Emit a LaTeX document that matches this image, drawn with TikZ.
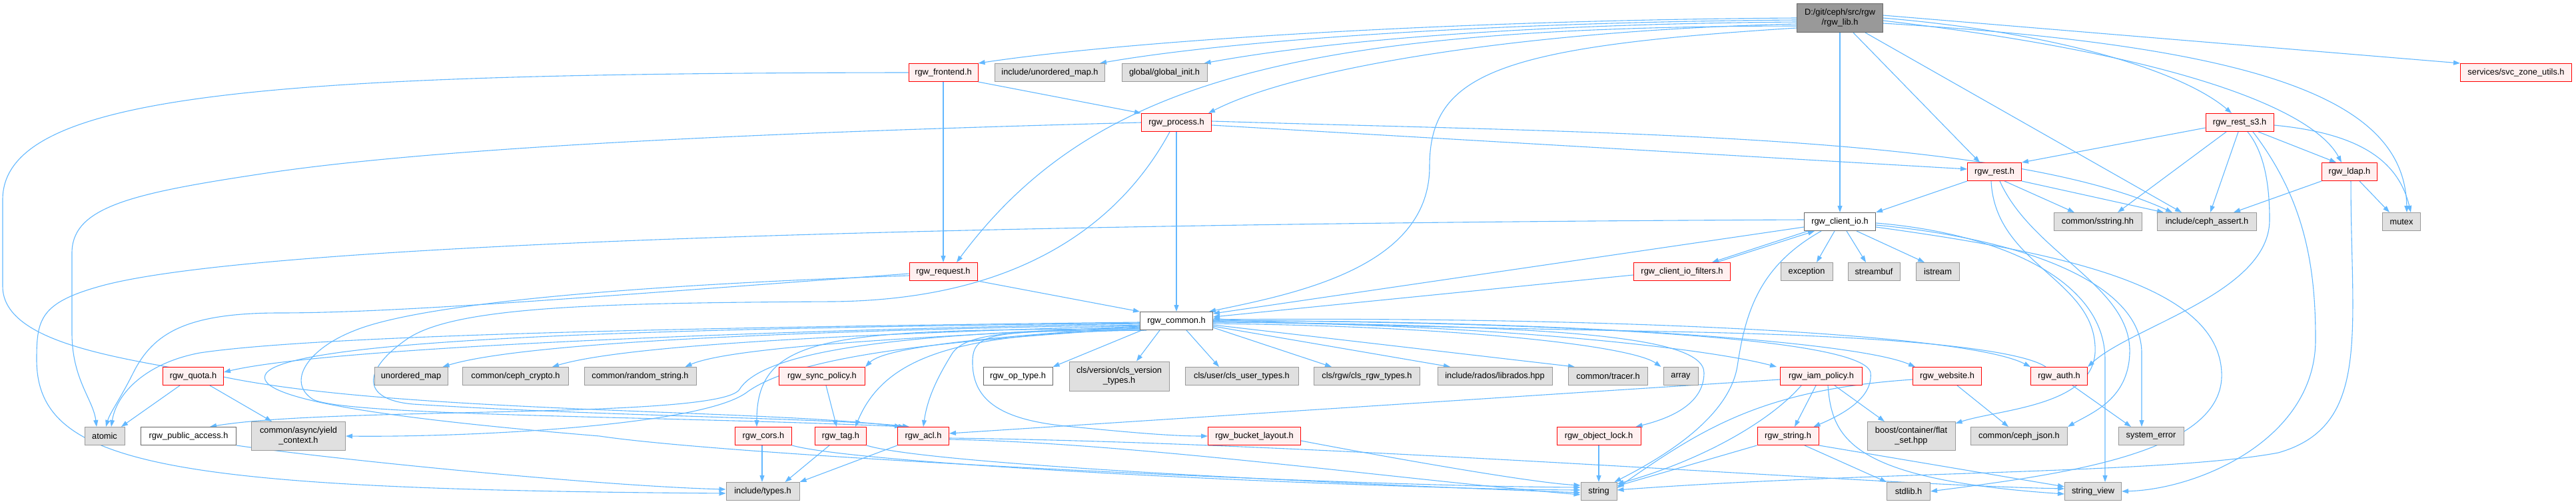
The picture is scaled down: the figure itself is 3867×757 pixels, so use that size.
\documentclass[tikz,border=0pt]{standalone}
\usepackage{fontspec}
\setmainfont{Liberation Sans}
\usetikzlibrary{arrows.meta}
\pgfdeclarelayer{bg}
\pgfsetlayers{bg,main}
\definecolor{edgec}{HTML}{63B8FF}
\definecolor{redf}{HTML}{FFF0F0}
\definecolor{redd}{HTML}{FF0000}
\definecolor{grayf}{HTML}{E0E0E0}
\definecolor{grayd}{HTML}{999999}
\definecolor{whd}{HTML}{666666}
\definecolor{rootf}{HTML}{999999}
\tikzset{
  box/.style={rectangle, inner sep=0pt, minimum height=27pt, font=\fontsize{12.8}{15}\selectfont, align=center, line width=1pt},
  rd/.style={box, fill=redf, draw=redd},
  gr/.style={box, fill=grayf, draw=grayd},
  wh/.style={box, fill=white, draw=whd},
  rt/.style={box, fill=rootf, draw=whd, minimum height=43pt},
  e/.style={draw=edgec, line width=1.1pt, -{Triangle[length=10pt,width=7pt]}}
}
\begin{document}
\begin{tikzpicture}[x=1pt,y=1pt]
\useasboundingbox (0,0) rectangle (3867,-757);
% nodes
\node[rt, minimum width=129] (lib) at (2762,-27) {D:/git/ceph/src/rgw\\/rgw\_lib.h};
\node[rd, minimum width=104] (frontend) at (1416,-109) {rgw\_frontend.h};
\node[gr, minimum width=165] (unordmaph) at (1576,-109) {include/unordered\_map.h};
\node[gr, minimum width=128] (globalinit) at (1748,-109) {global/global\_init.h};
\node[rd, minimum width=167] (svczone) at (3777,-109) {services/svc\_zone\_utils.h};
\node[rd, minimum width=105] (process) at (1766,-184) {rgw\_process.h};
\node[rd, minimum width=102] (rests3) at (3362,-184) {rgw\_rest\_s3.h};
\node[rd, minimum width=81] (rest) at (2994,-258) {rgw\_rest.h};
\node[rd, minimum width=83] (ldap) at (3527,-258) {rgw\_ldap.h};
\node[wh, minimum width=107] (clientio) at (2762,-333) {rgw\_client\_io.h};
\node[gr, minimum width=132] (sstring) at (3149,-333) {common/sstring.hh};
\node[gr, minimum width=149] (cephassert) at (3313,-333) {include/ceph\_assert.h};
\node[gr, minimum width=57] (mutex) at (3605,-333) {mutex};
\node[rd, minimum width=102] (request) at (1416,-408) {rgw\_request.h};
\node[rd, minimum width=145] (filters) at (2525,-408) {rgw\_client\_io\_filters.h};
\node[gr, minimum width=78] (exception) at (2712,-408) {exception};
\node[gr, minimum width=78] (streambuf) at (2813,-408) {streambuf};
\node[gr, minimum width=65] (istream) at (2909,-408) {istream};
\node[wh, minimum width=109] (common) at (1766,-482) {rgw\_common.h};
\node[rd, minimum width=91] (quota) at (290,-565) {rgw\_quota.h};
\node[gr, minimum width=110] (unorderedmap) at (617,-565) {unordered\_map};
\node[gr, minimum width=159] (cephcrypto) at (774,-565) {common/ceph\_crypto.h};
\node[gr, minimum width=168] (randomstring) at (961,-565) {common/random\_string.h};
\node[rd, minimum width=129] (syncpolicy) at (1234,-565) {rgw\_sync\_policy.h};
\node[wh, minimum width=104] (optype) at (1528,-565) {rgw\_op\_type.h};
\node[gr, minimum width=150, minimum height=44] (clsversion) at (1680,-565) {cls/version/cls\_version\\\_types.h};
\node[gr, minimum width=170] (clsuser) at (1864,-565) {cls/user/cls\_user\_types.h};
\node[gr, minimum width=159] (clsrgw) at (2052,-565) {cls/rgw/cls\_rgw\_types.h};
\node[gr, minimum width=172] (librados) at (2244,-565) {include/rados/librados.hpp};
\node[gr, minimum width=119] (tracer) at (2414,-565) {common/tracer.h};
\node[gr, minimum width=52] (array) at (2523,-565) {array};
\node[rd, minimum width=123] (iampolicy) at (2734,-565) {rgw\_iam\_policy.h};
\node[rd, minimum width=103] (website) at (2923,-565) {rgw\_website.h};
\node[rd, minimum width=85] (auth) at (3091,-565) {rgw\_auth.h};
\node[gr, minimum width=60] (atomic) at (157,-655) {atomic};
\node[wh, minimum width=143] (publicaccess) at (283,-655) {rgw\_public\_access.h};
\node[gr, minimum width=141, minimum height=43] (yield) at (448,-655) {common/async/yield\\\_context.h};
\node[rd, minimum width=85] (cors) at (1146,-655) {rgw\_cors.h};
\node[rd, minimum width=77] (tag) at (1262,-655) {rgw\_tag.h};
\node[rd, minimum width=77] (acl) at (1386,-655) {rgw\_acl.h};
\node[rd, minimum width=139] (bucketlayout) at (1883,-655) {rgw\_bucket\_layout.h};
\node[rd, minimum width=126] (objectlock) at (2400,-655) {rgw\_object\_lock.h};
\node[rd, minimum width=92] (rgwstring) at (2684,-655) {rgw\_string.h};
\node[gr, minimum width=132, minimum height=43] (flatset) at (2869,-655) {boost/container/flat\\\_set.hpp};
\node[gr, minimum width=145] (cephjson) at (3031,-655) {common/ceph\_json.h};
\node[gr, minimum width=98] (systemerror) at (3229,-655) {system\_error};
\node[gr, minimum width=110] (types) at (1145,-738) {include/types.h};
\node[gr, minimum width=54] (string) at (2400,-738) {string};
\node[gr, minimum width=65] (stdlib) at (2865,-738) {stdlib.h};
\node[gr, minimum width=85] (stringview) at (3142,-738) {string\_view};
% edges
\begin{pgfonlayer}{bg}
% lib
\draw[e] (lib.west) .. controls (2200,-30) and (1700,-60) .. (frontend.north east);
\draw[e] ([yshift=-3]lib.west) .. controls (2250,-33) and (1850,-60) .. ([xshift=-8]unordmaph.north east);
\draw[e] ([yshift=-6]lib.west) .. controls (2300,-36) and (2000,-60) .. ([xshift=-5]globalinit.north east);
\draw[e] ([yshift=-9]lib.west) .. controls (2300,-45) and (1950,-100) .. ([xshift=-5]process.north east);
\draw[e] ([yshift=-12]lib.west) .. controls (1950,-40) and (1640,-120) .. ([xshift=20]request.north);
\draw[e] ([yshift=-15]lib.west) .. controls (2250,-70) and (2146,-110) .. (2146,-250) .. controls (2146,-400) and (1950,-440) .. ([xshift=-6]common.north east);
\draw[e] (lib.south) -- (clientio.north);
\draw[e] ([xshift=20]lib.south) -- ([xshift=-22]rest.north);
\draw[e] ([xshift=38]lib.south) -- ([xshift=-38]cephassert.north);
\draw[e] (lib.east) .. controls (3100,-50) and (3280,-110) .. ([xshift=-12]rests3.north);
\draw[e] ([yshift=-4]lib.east) .. controls (3250,-80) and (3470,-160) .. ([xshift=-12]ldap.north);
\draw[e] ([yshift=-8]lib.east) .. controls (3400,-70) and (3610,-150) .. ([xshift=8]mutex.north);
\draw[e] ([yshift=4]lib.east) -- (svczone.north west);
% frontend
\draw[e] (frontend.south east) -- (process.north west);
\draw[e] (frontend.south) -- (request.north);
\draw[e] (frontend.west) .. controls (400,-110) and (4,-140) .. (4,-300) -- (4,-430) .. controls (4,-520) and (200,-540) .. (340,-567) .. controls (600,-620) and (1150,-615) .. ([xshift=6]acl.north west);
% process
\draw[e] (process.south) -- (common.north);
\draw[e] ([yshift=-4]process.east) -- ([yshift=4]rest.west);
\draw[e] ([yshift=2]process.east) .. controls (2400,-200) and (3000,-200) .. ([xshift=-52]cephassert.north);
\draw[e] (process.west) .. controls (1300,-195) and (700,-215) .. (400,-260) .. controls (200,-290) and (108,-310) .. (108,-380) -- (108,-500) .. controls (108,-570) and (140,-600) .. ([xshift=-12]atomic.north);
\draw[e] ([xshift=-10]process.south) .. controls (1690,-320) and (1550,-450) .. (1250,-453) .. controls (900,-455) and (680,-460) .. (610,-510) .. controls (545,-555) and (540,-600) .. (620,-607) .. controls (900,-625) and (1250,-628) .. ([xshift=18]acl.north west);
% rest_s3
\draw[e] ([yshift=-8]rests3.west) -- (rest.north east);
\draw[e] ([xshift=-20]rests3.south) -- ([xshift=30]sstring.north);
\draw[e] ([xshift=-2]rests3.south) -- ([xshift=5]cephassert.north);
\draw[e] ([xshift=28]rests3.south) -- ([xshift=-20]ldap.north);
\draw[e] ([yshift=-4]rests3.east) .. controls (3540,-200) and (3600,-240) .. ([xshift=14]mutex.north);
\draw[e] ([xshift=12]rests3.south) .. controls (3400,-230) and (3407,-280) .. (3407,-330) .. controls (3407,-440) and (3200,-490) .. (auth.north east);
\draw[e] ([xshift=20]rests3.south) .. controls (3460,-300) and (3476,-400) .. (3476,-510) .. controls (3476,-660) and (3300,-735) .. (stringview.east);
% rest
\draw[e] (rest.south west) -- (clientio.north east);
\draw[e] ([xshift=15]rest.south) -- ([xshift=-35]sstring.north);
\draw[e] (rest.south east) -- ([xshift=-65]cephassert.north);
\draw[e] ([xshift=-5]rest.south) .. controls (2995,-400) and (3150,-420) .. (3145,-530) .. controls (3140,-610) and (3000,-615) .. ([yshift=-3]flatset.north east);
\draw[e] ([xshift=8]rest.south) .. controls (3050,-380) and (3200,-430) .. (3197,-530) .. controls (3195,-600) and (3140,-620) .. (cephjson.north east);
% ldap
\draw[e] (ldap.south west) -- ([xshift=40]cephassert.north);
\draw[e] ([xshift=15]ldap.south) -- ([xshift=-18]mutex.north);
\draw[e] ([xshift=2]ldap.south) .. controls (3529,-500) and (3560,-640) .. (3420,-680) .. controls (3250,-712) and (2800,-708) .. ([yshift=2]string.east);
% client_io
\draw[e] ([xshift=-48]clientio.south) -- ([xshift=45]filters.north);
\draw[e] ([xshift=52]filters.north) -- ([xshift=-38]clientio.south);
\draw[e] ([xshift=-8]clientio.south) -- ([xshift=15]exception.north);
\draw[e] ([xshift=10]clientio.south) -- ([xshift=-12]streambuf.north);
\draw[e] ([xshift=25]clientio.south) -- ([xshift=-20]istream.north);
\draw[e] ([yshift=-8]clientio.west) -- ([yshift=-3]common.north east);
\draw[e] ([yshift=3]clientio.west) .. controls (1600,-335) and (400,-360) .. (150,-430) .. controls (60,-455) and (55,-480) .. (55,-540) .. controls (55,-700) and (250,-735) .. ([yshift=-3]types.west);
\draw[e] ([xshift=-28]clientio.south) .. controls (2640,-400) and (2620,-470) .. (2608,-550) .. controls (2595,-630) and (2490,-690) .. ([xshift=-4]string.north east);
\draw[e] ([yshift=-2]clientio.east) .. controls (3000,-350) and (3160,-420) .. (3160,-540) -- ([xshift=18]stringview.north);
\draw[e] ([yshift=-5]clientio.east) .. controls (3050,-360) and (3215,-430) .. (3215,-530) -- ([xshift=-14]systemerror.north);
\draw[e] ([yshift=-8]clientio.east) .. controls (3100,-380) and (3330,-430) .. (3335,-560) .. controls (3340,-680) and (3100,-712) .. (stdlib.east);
% filters
\draw[e] ([yshift=-5]filters.west) -- ([yshift=-8]common.north east);
% request
\draw[e] (request.south east) -- (common.north west);
\draw[e] ([yshift=-3]request.west) .. controls (900,-445) and (600,-470) .. (420,-470) .. controls (280,-470) and (230,-500) .. (200,-560) .. controls (180,-600) and (165,-620) .. ([xshift=2]atomic.north);
\draw[e] ([yshift=-6]request.west) .. controls (900,-430) and (620,-460) .. (531,-497) .. controls (460,-525) and (430,-575) .. (470,-600) .. controls (520,-625) and (1000,-625) .. ([xshift=12]acl.north west);
% common
\draw[e] ([yshift=-2]common.west) .. controls (1200,-490) and (500,-500) .. (300,-530) .. controls (220,-545) and (175,-590) .. ([xshift=10]atomic.north);
\draw[e] ([yshift=-3]common.west) .. controls (1200,-492) and (450,-500) .. (400,-560) .. controls (370,-600) and (600,-630) .. (900,-655) .. controls (1100,-685) and (2000,-730) .. ([yshift=6]string.west);
\draw[e] ([yshift=-4]common.west) .. controls (1200,-495) and (500,-520) .. ([yshift=6]quota.east);
\draw[e] ([yshift=-6]common.west) .. controls (1300,-495) and (800,-510) .. ([xshift=-8]unorderedmap.north east);
\draw[e] ([yshift=-7]common.west) .. controls (1350,-500) and (950,-515) .. ([xshift=-25]cephcrypto.north east);
\draw[e] ([yshift=-8]common.west) .. controls (1400,-505) and (1100,-520) .. ([xshift=-17]randomstring.north east);
\draw[e] ([yshift=-9]common.west) .. controls (1500,-505) and (1330,-520) .. (syncpolicy.north east);
\draw[e] ([yshift=-10]common.west) .. controls (1400,-500) and (1150,-520) .. (1110,-585) .. controls (1080,-630) and (500,-610) .. ([xshift=32]publicaccess.north);
\draw[e] ([yshift=-11]common.west) .. controls (1450,-510) and (1200,-530) .. (1120,-590) .. controls (1050,-640) and (700,-657) .. (yield.east);
\draw[e] ([yshift=-12]common.west) .. controls (1250,-495) and (1136,-500) .. ([xshift=-10]cors.north);
\draw[e] ([xshift=2]common.south west) .. controls (1450,-500) and (1330,-530) .. ([xshift=22]tag.north);
\draw[e] ([xshift=6]common.south west) .. controls (1520,-496) and (1452,-500) .. (1430,-530) .. controls (1405,-570) and (1392,-600) .. (acl.north);
\draw[e] ([xshift=10]common.south west) .. controls (1500,-497) and (1462,-497) .. (1460,-540) .. controls (1458,-600) and (1500,-630) .. (1600,-640) .. controls (1700,-650) and (1760,-655) .. (bucketlayout.west);
\draw[e] ([xshift=3]common.south west) -- (optype.north east);
\draw[e] ([xshift=30]common.south west) -- ([xshift=26]clsversion.north);
\draw[e] ([xshift=70]common.south west) -- ([xshift=-34]clsuser.north);
\draw[e] ([yshift=-10]common.east) -- ([xshift=-53]clsrgw.north);
\draw[e] ([yshift=-8]common.east) -- ([xshift=-67]librados.north);
\draw[e] ([yshift=-6]common.east) -- ([xshift=-50]tracer.north);
\draw[e] ([yshift=-4]common.east) .. controls (2200,-490) and (2450,-520) .. ([xshift=-3]array.north west);
\draw[e] ([yshift=-2]common.east) .. controls (2200,-485) and (2550,-520) .. ([xshift=-5]iampolicy.north west);
\draw[e] ([yshift=-1]common.east) .. controls (2300,-490) and (2558,-500) .. (2558,-560) .. controls (2558,-610) and (2500,-630) .. ([xshift=-8]objectlock.north east);
\draw[e] ([yshift=1]common.east) .. controls (2400,-485) and (2800,-510) .. (2808,-560) .. controls (2812,-600) and (2760,-625) .. ([xshift=-8]rgwstring.north east);
\draw[e] (common.east) .. controls (2300,-480) and (2780,-510) .. ([xshift=4]website.north west);
\draw[e] ([yshift=2]common.east) .. controls (2400,-475) and (2950,-500) .. (auth.north west);
\draw[e] ([xshift=-20]auth.north) .. controls (3040,-530) and (2900,-505) .. (2500,-498) .. controls (2200,-492) and (1900,-486) .. ([yshift=4]common.east);
% lower nodes
\draw[e] ([xshift=-20]quota.south) -- ([xshift=25]atomic.north);
\draw[e] ([xshift=25]quota.south) -- ([xshift=-40]yield.north);
\draw[e] (publicaccess.south east) .. controls (500,-690) and (900,-730) .. ([yshift=3]types.west);
\draw[e] ([xshift=6]syncpolicy.south) -- ([xshift=-6]tag.north);
\draw[e] ([xshift=-2]cors.south) -- ([xshift=-1]types.north);
\draw[e] (cors.south east) .. controls (1300,-700) and (2100,-735) .. ([yshift=2]string.west);
\draw[e] ([xshift=-17]tag.south) -- ([xshift=-22]types.north east);
\draw[e] (tag.south east) .. controls (1400,-700) and (2100,-730) .. ([yshift=-2]string.west);
\draw[e] (acl.south west) -- (types.north east);
\draw[e] ([yshift=-5]acl.east) .. controls (1700,-665) and (2100,-720) .. ([yshift=-5]string.west);
\draw[e] ([yshift=-3]acl.east) .. controls (2000,-665) and (2800,-728) .. ([yshift=4]stringview.west);
\draw[e] ([yshift=-7]bucketlayout.east) .. controls (2100,-690) and (2300,-725) .. ([yshift=9]string.west);
\draw[e] (objectlock.south) -- (string.north);
\draw[e] ([yshift=-5]iampolicy.west) -- ([yshift=4]acl.east);
\draw[e] ([xshift=-8]iampolicy.south) -- ([xshift=10]rgwstring.north);
\draw[e] ([xshift=20]iampolicy.south) -- ([xshift=-40]flatset.north);
\draw[e] ([xshift=-30]iampolicy.south) .. controls (2660,-630) and (2560,-690) .. ([yshift=-3]string.north east);
\draw[e] ([xshift=10]iampolicy.south) .. controls (2750,-660) and (2780,-720) .. ([yshift=-4]stringview.west);
\draw[e] (rgwstring.south west) -- ([yshift=-6]string.north east);
\draw[e] ([xshift=25]rgwstring.south) -- (stdlib.north west);
\draw[e] (rgwstring.south east) -- ([yshift=7]stringview.west);
\draw[e] ([xshift=15]website.south) -- ([xshift=-16]cephjson.north);
\draw[e] ([yshift=-5]website.west) .. controls (2650,-585) and (2560,-640) .. ([yshift=-9]string.north east);
\draw[e] ([xshift=20]auth.south) -- ([xshift=-30]systemerror.north);
\end{pgfonlayer}
\end{tikzpicture}
\end{document}
